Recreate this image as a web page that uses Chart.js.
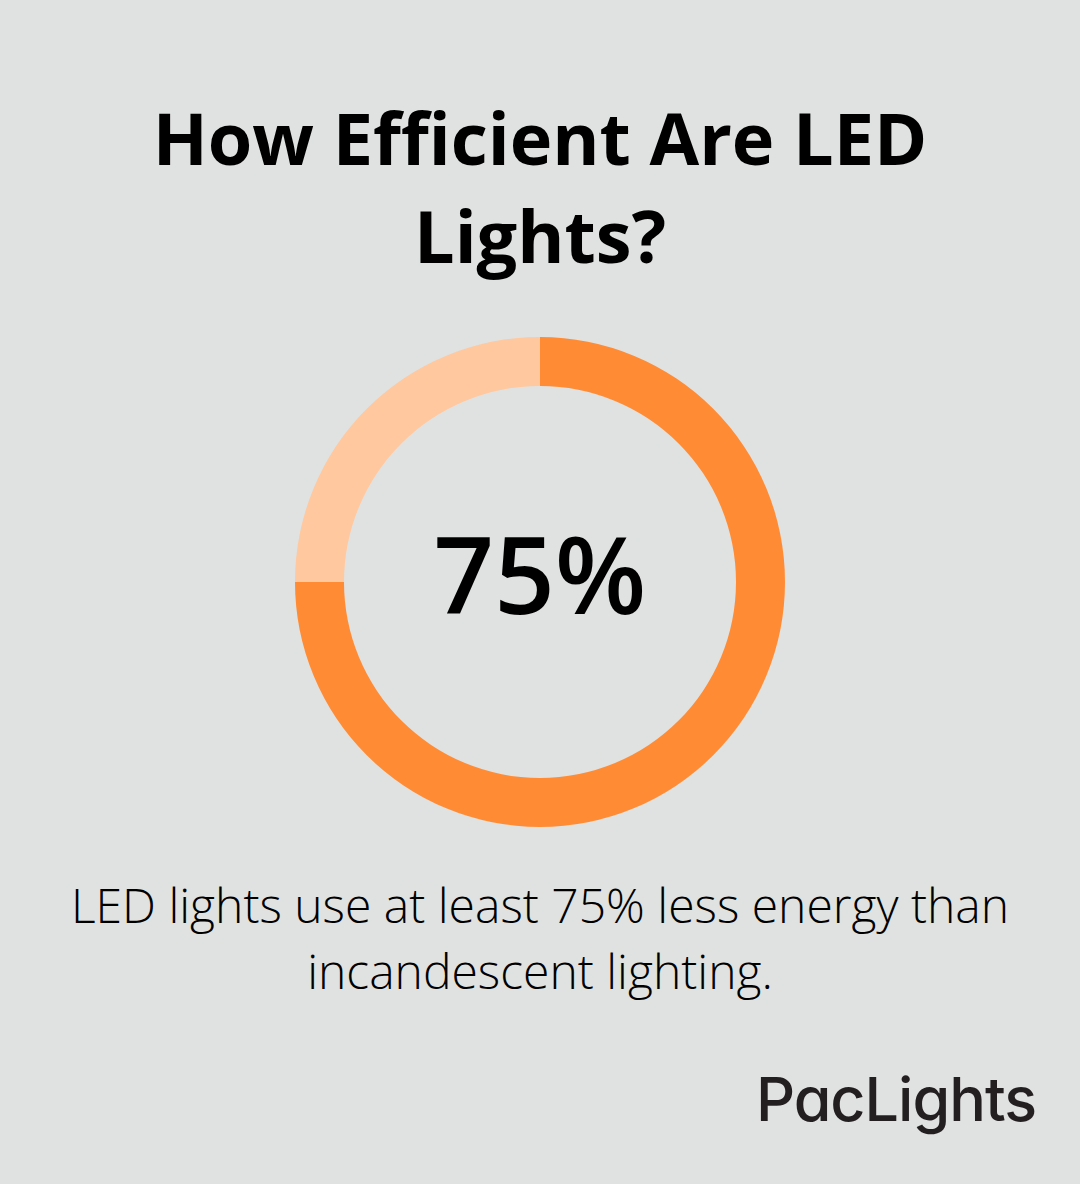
<!DOCTYPE html>
<html lang="en">
<head>
    <meta charset="UTF-8">
    <title>How Efficient Are LED Lights?</title>
    <script src="https://cdn.jsdelivr.net/npm/chart.js@4.4.1/dist/chart.umd.min.js"></script>
    <style>
        html, body {
            margin: 0;
            padding: 0;
        }
        body {
            width: 1080px;
            height: 1184px;
            background: #e0e2e1;
            position: relative;
            overflow: hidden;
            font-family: "Open Sans", sans-serif;
            color: #000;
        }
        .title {
            position: absolute;
            top: 88px;
            left: 0;
            width: 1080px;
            text-align: center;
            font-weight: 700;
            font-size: 72px;
            line-height: 98px;
            margin: 0;
        }
        .chart-box {
            position: absolute;
            top: 327px;
            left: 285px;
            width: 510px;
            height: 510px;
        }
        .note {
            position: absolute;
            top: 872px;
            left: 0;
            width: 1080px;
            text-align: center;
            font-weight: 300;
            font-size: 48px;
            line-height: 66px;
            margin: 0;
        }
        .logo {
            position: absolute;
            top: 1069px;
            right: 44px;
            font-family: Inter, sans-serif;
            font-weight: 500;
            font-size: 61px;
            line-height: 60px;
            letter-spacing: -1px;
            color: #231f20;
            font-feature-settings: "cv11";
        }
    </style>
</head>
<body>
    <h1 class="title">How Efficient Are LED<br>Lights?</h1>

    <div class="chart-box">
        <canvas id="ledChart"></canvas>
    </div>

    <p class="note">LED lights use at least 75% less energy than<br>incandescent lighting.</p>

    <div class="logo">PacLights</div>

    <script>
        // datos del gráfico
        const labels = ['Energy saved', 'Energy used'];
        const values = [75, 25];
        const colors = ['#ff8c35', '#ffc89e'];
        const centerLabel = '75%';

        // texto en el centro del anillo
        const centerText = {
            id: 'centerText',
            afterDraw(chart) {
                const { ctx, chartArea } = chart;
                const cx = (chartArea.left + chartArea.right) / 2;
                const cy = (chartArea.top + chartArea.bottom) / 2;
                ctx.save();
                ctx.font = '600 106px "Open Sans"';
                ctx.fillStyle = '#000';
                ctx.textAlign = 'center';
                ctx.textBaseline = 'alphabetic';
                ctx.fillText(centerLabel, cx, cy + 32);
                ctx.restore();
            }
        };

        const ctx = document.getElementById('ledChart').getContext('2d');
        new Chart(ctx, {
            type: 'doughnut',
            data: {
                labels: labels,
                datasets: [{
                    data: values,
                    backgroundColor: colors,
                    borderWidth: 0,
                    hoverOffset: 0
                }]
            },
            options: {
                responsive: true,
                maintainAspectRatio: false,
                animation: false,
                cutout: '80%',
                layout: { padding: 10 },
                plugins: {
                    legend: { display: false },
                    tooltip: { enabled: false }
                }
            },
            plugins: [centerText]
        });
    </script>
</body>
</html>
